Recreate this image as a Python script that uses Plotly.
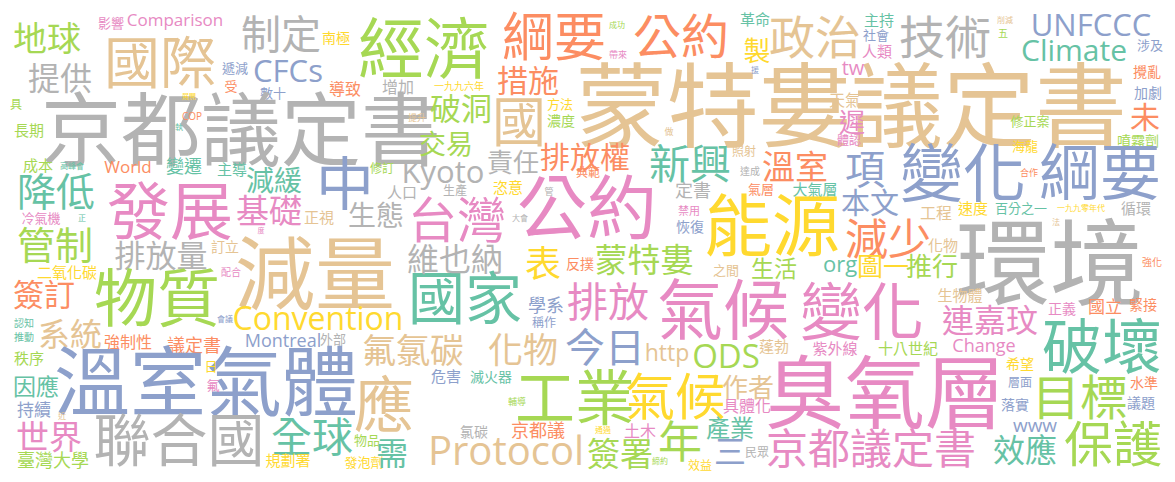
import plotly.graph_objects as go

# word cloud terms (reading order: left-top to right-bottom, grouped by 10)
words = [
    "地球", "影響", "Comparison", "國際", "制定", "經濟", "提供", "遞減", "CFCs", "南極",
    "受", "數十", "導致", "增加", "京都議定書", "具", "長期", "COP", "展開", "執",
    "成本", "高峰會", "World", "變遷", "主導", "減緩", "修訂", "中", "降低", "發展",
    "基礎", "冷氣機", "正", "正視", "生態", "人口", "管制", "排放量", "訂立", "度",
    "減量", "二氧化碳", "配合", "簽訂", "物質", "Convention", "認知", "推動", "系統", "強制性",
    "議定書", "會議", "Montreal", "外部", "秩序", "溫室氣體", "日", "氟", "因應", "持續",
    "近", "世界", "臺灣大學", "聯合國", "全球", "規劃署", "物品", "發泡劑", "應", "需",
    "國家", "氟氯碳", "化物", "今日", "http", "ODS", "蓬勃", "危害", "滅火器", "工業",
    "氣候", "作者", "具體化", "輔導", "京都議", "氯碳", "Protocol", "簽署", "年", "土木",
    "通過", "締約", "產業", "三", "民眾", "效益", "京都議定書", "臭氧層", "變化", "氣候",
    "綱要", "公約", "成功", "帶來", "革命", "製", "政治", "措施", "一九九六年", "破洞",
    "提升", "國", "方法", "濃度", "蒙特婁議定書", "技術", "主持", "社會", "人類", "削減",
    "五", "UNFCCC", "Climate", "涉及", "tw", "攪亂", "加劇", "未", "天氣", "遲",
    "體認", "修正案", "海龍", "噴霧劑", "援", "做", "照射", "新興", "排放權", "責任",
    "交易", "溫室", "項", "變化", "綱要", "大氣層", "合作", "本文", "工程", "速度",
    "百分之一", "一九九零年代", "循環", "法", "能源", "減少", "化物", "環境", "生活", "org",
    "圖一", "推行", "生物體", "強化", "正義", "國立", "緊接", "連嘉玟", "破壞", "紫外線",
    "十八世紀", "Change", "希望", "層面", "落實", "目標", "水準", "議題", "www", "效應",
    "保護", "Kyoto", "公約", "台灣", "生產", "恣意", "管", "典範", "大會", "定書",
    "達成", "氣層", "禁用", "恢復", "維也納", "表", "反撲", "蒙特婁", "之間", "排放",
    "學系", "稱作",
]

# relative weight of each term (drives the font size)
weights = [
    34, 13, 17, 56, 40, 66, 32, 13, 31, 14,
    13, 13, 16, 16, 80, 12, 15, 10, 7, 8,
    15, 8, 17, 18, 15, 28, 12, 58, 39, 63,
    33, 13, 8, 15, 28, 15, 38, 31, 14, 7,
    80, 15, 10, 31, 63, 32, 10, 10, 32, 16,
    18, 8, 18, 13, 15, 76, 13, 13, 23, 17,
    8, 33, 18, 57, 41, 15, 13, 13, 60, 32,
    57, 34, 35, 40, 23, 33, 15, 15, 14, 60,
    50, 26, 16, 9, 18, 14, 40, 33, 44, 16,
    8, 8, 24, 32, 12, 12, 42, 80, 62, 66,
    52, 48, 8, 9, 15, 27, 46, 31, 10, 31,
    9, 54, 13, 14, 92, 46, 15, 13, 15, 8,
    10, 31, 30, 13, 20, 14, 14, 30, 16, 26,
    12, 13, 13, 14, 8, 9, 12, 41, 30, 26,
    27, 33, 40, 63, 61, 15, 9, 29, 16, 15,
    13, 8, 15, 8, 68, 43, 15, 94, 23, 22,
    26, 26, 15, 10, 14, 17, 14, 32, 60, 15,
    15, 18, 14, 12, 14, 48, 14, 14, 19, 32,
    49, 31, 70, 49, 12, 15, 9, 12, 8, 18,
    10, 13, 11, 14, 32, 36, 14, 33, 13, 41,
    18, 12,
]

# layout of the cloud (same order as words): centre of each word in pixels
pos_x = [
    47, 111, 175, 160, 281, 424, 60, 235, 288, 336,
    231, 273, 345, 398, 241, 16, 29, 192, 189, 179,
    38, 72, 128, 184, 232, 274, 382, 345, 56, 170,
    269, 41, 82, 319, 376, 402, 55, 161, 225, 261,
    315, 67, 231, 44, 157, 318, 24, 24, 70, 128,
    194, 225, 283, 333, 29, 206, 211, 213, 36, 34,
    62, 49, 53, 179, 312, 288, 367, 364, 384, 392,
    465, 413, 523, 605, 667, 726, 774, 446, 491, 575,
    675, 748, 747, 517, 538, 474, 506, 620, 680, 640,
    603, 660, 730, 730, 757, 700, 871, 885, 862, 723,
    554, 681, 617, 618, 755, 757, 815, 528, 459, 461,
    417, 519, 560, 561, 851, 945, 879, 876, 877, 1005,
    1003, 1091, 1074, 1150, 853, 1147, 1148, 1145, 845, 852,
    849, 1030, 1025, 1138, 755, 669, 744, 690, 585, 513,
    446, 795, 865, 963, 1100, 815, 1029, 870, 936, 973,
    1021, 1081, 1136, 1056, 772, 888, 943, 1050, 774, 840,
    883, 932, 960, 1152, 1062, 1105, 1143, 990, 1102, 835,
    908, 984, 1020, 1020, 1015, 1080, 1144, 1141, 1035, 1025,
    1113, 443, 587, 457, 455, 508, 549, 588, 520, 693,
    750, 761, 689, 690, 455, 543, 580, 644, 726, 608,
    546, 544,
]
pos_y = [
    37, 23, 19, 60, 33, 46, 77, 68, 69, 37,
    86, 93, 88, 86, 126, 104, 130, 116, 96, 127,
    165, 166, 166, 166, 169, 180, 168, 181, 190, 208,
    209, 218, 218, 217, 215, 192, 243, 254, 246, 230,
    270, 272, 272, 293, 295, 317, 323, 337, 333, 341,
    345, 319, 340, 339, 358, 379, 366, 385, 386, 409,
    416, 435, 460, 438, 435, 460, 440, 462, 402, 452,
    296, 349, 349, 346, 352, 354, 346, 376, 376, 395,
    394, 386, 405, 401, 430, 431, 449, 452, 440, 430,
    430, 461, 427, 450, 452, 465, 447, 389, 310, 307,
    35, 34, 25, 54, 19, 50, 35, 79, 86, 107,
    117, 120, 104, 120, 102, 35, 20, 35, 51, 20,
    33, 23, 49, 45, 67, 71, 92, 116, 99, 121,
    140, 121, 146, 140, 70, 131, 151, 162, 156, 161,
    143, 165, 168, 170, 170, 189, 172, 202, 212, 208,
    208, 208, 208, 222, 223, 237, 245, 259, 268, 263,
    265, 265, 295, 262, 308, 306, 304, 319, 344, 348,
    348, 345, 363, 382, 404, 395, 382, 402, 424, 449,
    442, 170, 205, 218, 190, 187, 191, 172, 218, 190,
    171, 189, 210, 226, 258, 262, 263, 258, 270, 300,
    305, 322,
]

palette = {
    "T": "#66c2a5", "O": "#fc8d62", "B": "#8da0cb", "P": "#e78ac3",
    "L": "#a6d854", "Y": "#ffd92f", "N": "#e5c494", "G": "#b3b3b3",
}
color_keys = (
    "LPPNGLGBBY" "OBOGGLLOYT" "LTOTTTLBTP" "PPTNGGLGNP" "NYPOLYTTNO"
    "OBBGLBYPTB" "NPLGTYLYNT" "TNNBNLNBTL" "YNPLOGNLLP" "YLTBGYPPPP"
    "OOLPTYNOYL" "NNYLNGTBPN" "LBTBPOBONP" "PLYLBNNTOG" "LOBBBTOBNY"
    "TYGNYONGLT" "YLNOPOOPTP" "LPYBBLOBBT" "LGPPGYGOGG" "GOPBGYOLNP"
    "BB"
)
colors = [palette[k] for k in color_keys]

# plotly's "middle" anchor sits a bit high for CJK glyphs; nudge baselines down
y_anchor = [y + 0.16 * s for y, s in zip(pos_y, weights)]

fig = go.Figure()
fig.add_trace(go.Scatter(
    x=pos_x,
    y=y_anchor,
    mode="text",
    text=words,
    textposition="middle center",
    textfont=dict(size=weights, color=colors,
                  family="Open Sans, Noto Sans CJK TC, sans-serif"),
    hoverinfo="skip",
    cliponaxis=False,
    showlegend=False,
))

fig.update_layout(
    width=1175,
    height=482,
    margin=dict(l=0, r=0, t=0, b=0),
    paper_bgcolor="white",
    plot_bgcolor="white",
    xaxis=dict(range=[0, 1175], visible=False),
    yaxis=dict(range=[482, 0], visible=False),
)

fig.write_html("out.html", config={"displayModeBar": False},
               post_script="document.body.style.margin='0';")
